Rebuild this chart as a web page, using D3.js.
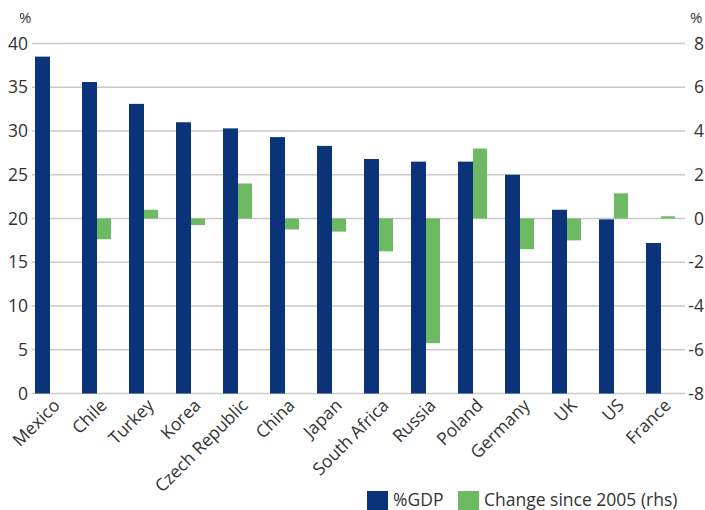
<!DOCTYPE html>
<html>
<head>
<meta charset="utf-8">
<script src="https://cdn.jsdelivr.net/npm/d3@7/dist/d3.min.js"></script>
<style>
  body { margin: 0; background: #fff; }
  text { font-family: "Open Sans", sans-serif; fill: #333; }
</style>
</head>
<body>
<div id="chart"></div>
<script>
const countries = ["Mexico", "Chile", "Turkey", "Korea", "Czech Republic", "China", "Japan",
  "South Africa", "Russia", "Poland", "Germany", "UK", "US", "France"];
const gdp = [38.5, 35.6, 33.1, 31.0, 30.3, 29.3, 28.3, 26.8, 26.5, 26.5, 25.0, 21.0, 19.9, 17.2];
const change = [null, -0.95, 0.4, -0.3, 1.6, -0.5, -0.6, -1.5, -5.7, 3.2, -1.4, -1.0, 1.15, 0.1];
const leftTicks = [0, 5, 10, 15, 20, 25, 30, 35, 40];
const rightTicks = [-8, -6, -4, -2, 0, 2, 4, 6, 8];

const width = 705, height = 510;
const plot = { left: 32, right: 685, top: 43.5, bottom: 393.5 };
const fontSize = "17.5px";

const svg = d3.select("#chart").append("svg")
  .attr("width", width)
  .attr("height", height);

const x = d3.scaleBand()
  .domain(countries)
  .range([26.5, 684.5]);

const yLeft = d3.scaleLinear().domain([0, 40]).range([plot.bottom, plot.top]);
const yRight = d3.scaleLinear().domain([-8, 8]).range([plot.bottom, plot.top]);

// gridlines
svg.append("g")
  .selectAll("line")
  .data(leftTicks)
  .enter().append("line")
  .attr("x1", plot.left)
  .attr("x2", plot.right)
  .attr("y1", d => yLeft(d))
  .attr("y2", d => yLeft(d))
  .attr("stroke", "#c9c9c9")
  .attr("stroke-width", 1.3);

// left axis labels
svg.append("g")
  .selectAll("text")
  .data(leftTicks)
  .enter().append("text")
  .attr("x", 28)
  .attr("y", d => yLeft(d) + 6)
  .attr("text-anchor", "end")
  .style("font-size", fontSize)
  .text(d => d);

// right axis labels
svg.append("g")
  .selectAll("text")
  .data(rightTicks)
  .enter().append("text")
  .attr("x", 704)
  .attr("y", d => yRight(d) + 6)
  .attr("text-anchor", "end")
  .style("font-size", fontSize)
  .text(d => d);

svg.append("text").attr("x", 19).attr("y", 23).style("font-size", "15px").text("%");
svg.append("text").attr("x", 690).attr("y", 23).style("font-size", "15px").text("%");

const barW = 15;

// %GDP bars
svg.append("g")
  .selectAll("rect")
  .data(countries)
  .enter().append("rect")
  .attr("x", d => x(d) + x.bandwidth() / 2 - barW)
  .attr("width", barW)
  .attr("y", (d, i) => yLeft(gdp[i]))
  .attr("height", (d, i) => yLeft(0) - yLeft(gdp[i]))
  .attr("fill", "#0a337a");

// change bars (rhs)
svg.append("g")
  .selectAll("rect")
  .data(countries.filter((d, i) => change[i] !== null))
  .enter().append("rect")
  .attr("x", d => x(d) + x.bandwidth() / 2)
  .attr("width", barW - 1)
  .attr("y", d => yRight(Math.max(0, change[countries.indexOf(d)])))
  .attr("height", d => Math.abs(yRight(change[countries.indexOf(d)]) - yRight(0)))
  .attr("fill", "#6dba63");

// x labels
svg.append("g")
  .selectAll("text")
  .data(countries)
  .enter().append("text")
  .attr("transform", d => `translate(${x(d) + x.bandwidth() / 2 + 11},${plot.bottom + 13}) rotate(-45)`)
  .attr("text-anchor", "end")
  .style("font-size", fontSize)
  .text(d => d);

// legend
const legend = [
  { label: "%GDP", color: "#0a337a", x: 367 },
  { label: "Change since 2005 (rhs)", color: "#6dba63", x: 458 }
];
const lg = svg.append("g")
  .selectAll("g")
  .data(legend)
  .enter().append("g")
  .attr("transform", d => `translate(${d.x},491)`);
lg.append("rect").attr("width", 21).attr("height", 19).attr("fill", d => d.color);
lg.append("text").attr("x", 26).attr("y", 15).style("font-size", fontSize).text(d => d.label);
</script>
</body>
</html>
